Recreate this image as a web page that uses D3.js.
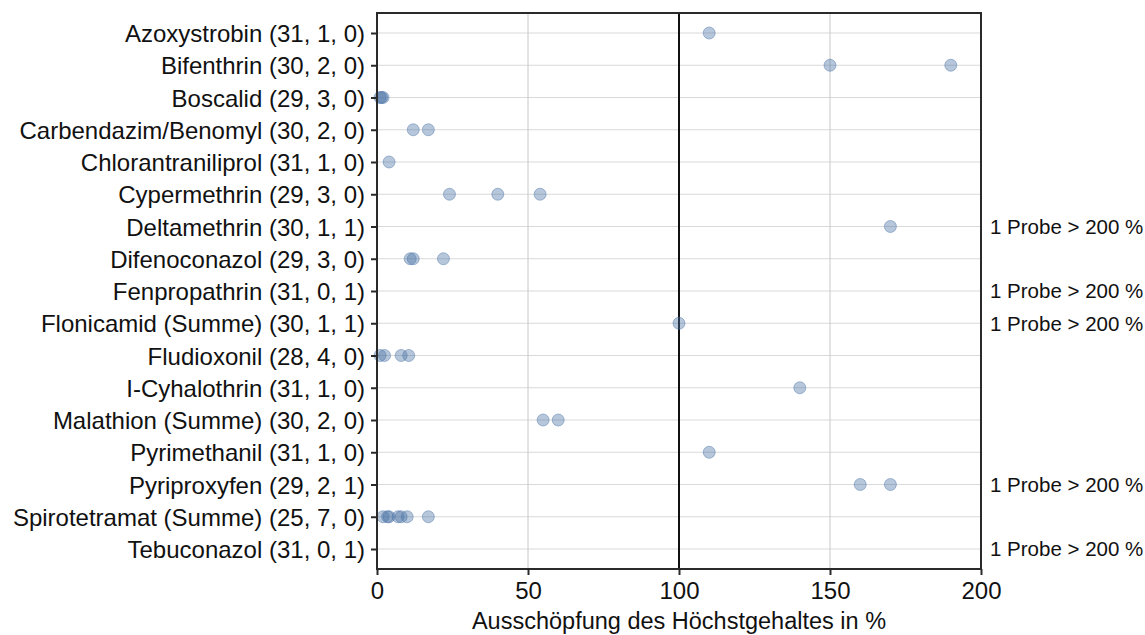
<!DOCTYPE html>
<html><head><meta charset="utf-8">
<script src="https://cdn.jsdelivr.net/npm/d3@7"></script>
<style>body{margin:0;background:#fff;} text{font-family:"Liberation Sans",Arial,sans-serif;}</style>
</head><body><svg id="c" width="1145" height="635"></svg>
<script>
const categories = ["Azoxystrobin (31, 1, 0)","Bifenthrin (30, 2, 0)","Boscalid (29, 3, 0)","Carbendazim/Benomyl (30, 2, 0)","Chlorantraniliprol (31, 1, 0)","Cypermethrin (29, 3, 0)","Deltamethrin (30, 1, 1)","Difenoconazol (29, 3, 0)","Fenpropathrin (31, 0, 1)","Flonicamid (Summe) (30, 1, 1)","Fludioxonil (28, 4, 0)","I-Cyhalothrin (31, 1, 0)","Malathion (Summe) (30, 2, 0)","Pyrimethanil (31, 1, 0)","Pyriproxyfen (29, 2, 1)","Spirotetramat (Summe) (25, 7, 0)","Tebuconazol (31, 0, 1)"];
const values = [[110],[150,190],[1,1.5,2],[12,17],[4],[24,40,54],[170],[11,12,22],[],[100],[1,2.5,8,10.5],[140],[55,60],[110],[160,170],[2,3.5,4,7,8,10,17],[]];
const over200 = [0,0,0,0,0,0,1,0,1,1,0,0,0,0,1,0,1];
const xTicks = [0,50,100,150,200];
const xTitle = "Ausschöpfung des Höchstgehaltes in %";

const svg = d3.select("#c");
const L=377, R=981, T=13, B=569;
const x = d3.scaleLinear().domain([0,200]).range([L,R]);
const y = d3.scalePoint().domain(categories).range([33,549]);
const FONT = "'Liberation Sans',Arial,sans-serif";

// horizontal grid
svg.append("g").selectAll("line").data(categories).join("line")
  .attr("x1",L).attr("x2",R).attr("y1",d=>y(d)).attr("y2",d=>y(d))
  .attr("stroke","#d9d9d9").attr("stroke-width",1);
// vertical grid
svg.append("g").selectAll("line").data([50,150]).join("line")
  .attr("x1",d=>x(d)).attr("x2",d=>x(d)).attr("y1",T).attr("y2",B)
  .attr("stroke","#c8c8c8").attr("stroke-width",1);
// 100 line
svg.append("line").attr("x1",x(100)).attr("x2",x(100)).attr("y1",T).attr("y2",B)
  .attr("stroke","#111").attr("stroke-width",2);

// points
const pts = [];
values.forEach((vs,i)=>vs.forEach(v=>pts.push({c:categories[i],v})));
svg.append("g").selectAll("circle").data(pts).join("circle")
  .attr("cx",d=>x(d.v)).attr("cy",d=>y(d.c)).attr("r",6)
  .attr("fill","#4a72a6").attr("fill-opacity",0.4)
  .attr("stroke","#4a72a6").attr("stroke-opacity",0.45).attr("stroke-width",1);

// border
svg.append("rect").attr("x",L).attr("y",T).attr("width",R-L).attr("height",B-T)
  .attr("fill","none").attr("stroke","#2a2a2a").attr("stroke-width",2);

// y axis
const ya = svg.append("g").attr("transform",`translate(${L},0)`)
  .call(d3.axisLeft(y).tickSize(6).tickPadding(6));
ya.select(".domain").remove();
ya.selectAll(".tick line").attr("stroke","#2a2a2a").attr("stroke-width",2);
ya.selectAll(".tick text").attr("font-size",24).attr("fill","#111").attr("dy","0.36em")
  .style("font-family",FONT);

// x axis
const xa = svg.append("g").attr("transform",`translate(0,${B})`)
  .call(d3.axisBottom(x).tickValues(xTicks).tickSize(6).tickPadding(7));
xa.select(".domain").remove();
xa.selectAll(".tick line").attr("stroke","#2a2a2a").attr("stroke-width",2);
xa.selectAll(".tick text").attr("font-size",24).attr("fill","#111")
  .style("font-family",FONT);

svg.append("text").attr("x",x(100)).attr("y",629).attr("text-anchor","middle")
  .attr("font-size",23.5).attr("fill","#111").text(xTitle);

// annotations
svg.append("g").selectAll("text").data(categories.filter((c,i)=>over200[i]>0)).join("text")
  .attr("x",990).attr("y",d=>y(d)).attr("dy","0.36em")
  .attr("font-size",20.5).attr("fill","#111")
  .text(d=>`${over200[categories.indexOf(d)]} Probe > 200 %`);
</script></body></html>
